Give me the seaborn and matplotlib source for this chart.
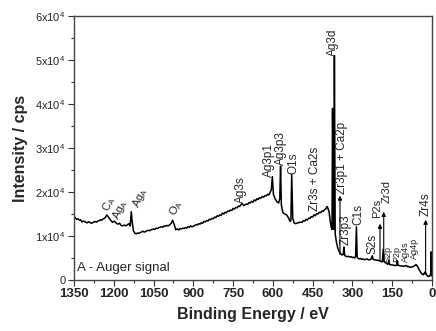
import matplotlib
matplotlib.use("Agg")
import matplotlib.pyplot as plt
import seaborn as sns
import pandas as pd

# ---- spectrum data (binding energy in eV, intensity in cps) ----
energy = [1350, 1345, 1340, 1334, 1330, 1325, 1320, 1314, 1310, 1305, 1300, 1295, 1290, 1285, 1280,
          1275, 1270, 1265, 1260, 1255, 1250, 1245, 1240, 1236, 1232,
          1226, 1220, 1212, 1205, 1198, 1192, 1185, 1178, 1172, 1166, 1160, 1154, 1148,
          1142, 1138, 1134, 1130, 1126, 1120, 1115, 1110, 1105, 1100, 1095, 1090, 1085, 1080, 1075,
          1070, 1065, 1060, 1055, 1050, 1045,
          1040, 1035, 1030, 1025, 1020, 1015, 1010, 1005, 1000, 995, 990, 983, 978, 972, 966, 962, 958, 954,
          950, 945, 940, 935, 930, 925, 920, 915,
          910, 905, 900, 895, 890, 885, 880, 875, 870, 865, 860, 855, 850, 845, 840, 835, 830, 825,
          820, 815, 810, 805, 800, 795, 790, 785, 780, 775, 770, 765, 760, 755,
          750, 745, 740, 735, 730, 726, 722, 716, 710, 705, 700, 695, 690, 685, 680, 675, 670, 665,
          660, 655, 650, 645, 640, 635, 630, 625, 620, 616, 612,
          606, 602, 598, 592, 585, 578, 574, 571, 568, 562, 555, 548, 540, 535, 532, 529,
          525, 520, 515, 510, 505, 500, 495, 490, 485, 480, 475, 470, 465, 460, 455, 450, 445, 440,
          435, 430, 425, 420, 415, 410, 405, 400, 398, 395, 392,
          388, 384, 380, 377, 375, 372, 370, 368, 365, 360, 355, 350, 345, 340, 335, 332,
          329, 325, 320, 315, 310, 305, 300, 296, 292, 288, 285, 282, 278, 275, 270, 265, 260, 255,
          250, 245, 240, 235, 230, 228, 225, 222,
          218, 215, 210, 205, 200, 195, 190, 187, 184, 181, 178, 175, 171, 168, 165, 163, 160, 155,
          150, 145, 140, 136, 133, 131, 128, 123, 118,
          113, 108, 104, 100, 96, 92, 88, 84, 80, 76, 72, 68, 64, 61, 58, 55, 52, 48, 45, 41, 38, 35,
          33, 30, 28, 25, 22, 18, 15, 12, 8, 5, 3, 1, 0]
counts = [14500, 14100, 13800, 13900, 13600, 13700, 13200, 13400, 13300, 13100, 13000, 13250, 13100, 12900, 13000,
          13200, 13300, 13150, 13400, 13500, 13700, 13600, 13900, 14000, 14200,
          14800, 14300, 13600, 13100, 13400, 13000, 12700, 12900, 12400, 12300, 12500, 12300, 12600,
          12800, 12300, 15500, 13000, 11200, 10600, 10500, 10700, 10600, 10800, 10900, 11100, 10900, 11000, 11200,
          11300, 11200, 11400, 11500, 11600, 11500,
          11800, 11700, 11900, 12000, 12100, 12000, 12300, 12200, 12400, 12300, 12500, 12900, 13600, 12600, 11400, 11600, 11500, 11400,
          11700, 11600, 11800, 11700, 11900, 11800, 12100, 12000,
          12300, 12100, 12200, 12400, 12600, 12500, 12800, 12700, 13000, 12900, 13300, 13200, 13500, 13400, 13800, 13700, 14000, 13900,
          14300, 14200, 14600, 14500, 14800, 14700, 15200, 15000, 15400, 15300, 15700, 15600, 15900, 15800,
          16300, 16100, 16500, 16400, 16800, 16700, 17000, 17400, 16900, 17100, 17300, 17200, 17600, 17500, 17900, 17700, 18200, 18000,
          18500, 18300, 18700, 18600, 19000, 18800, 19200, 19100, 19500, 19300, 19700,
          20500, 23500, 19500, 18500, 17800, 17500, 18500, 25900, 17000, 15300, 15000, 14800, 14000, 13300, 13500, 24000,
          14000, 13000, 12800, 12900, 13000, 13100, 13200, 13100, 13500, 13400, 13800, 13600, 14100, 14000, 14400, 14300, 14800, 14600,
          15100, 15000, 15400, 15300, 15700, 15600, 16000, 16200, 16500, 16700, 16200,
          15500, 13500, 12000, 11500, 39000, 12000, 11500, 51000, 10500, 8500, 7200, 6500, 6000, 5700, 5800, 7500,
          5600, 5400, 5300, 5400, 5200, 5300, 5100, 5200, 5000, 5300, 12100, 5200, 4900, 4800, 4900, 4700, 4800, 4600,
          4700, 4800, 4600, 4600, 4700, 5000, 5500, 4700,
          4600, 4600, 4500, 4500, 4400, 4300, 4200, 4100, 7000, 4300, 4000, 3900, 3800, 3600, 3700, 4500, 3500, 3500,
          3400, 3400, 3300, 3300, 3400, 4400, 3300, 3300, 3200,
          3200, 3100, 3200, 3200, 3300, 3000, 3100, 2900, 2900, 3000, 3000, 3200, 3300, 3500, 3400, 3100, 2800, 2300, 2000, 1600, 1400, 1300,
          1200, 1400, 1700, 1900, 1300, 1000, 800, 850, 900, 1500, 6400, 1000, 900]

x_ticks = [1350, 1200, 1050, 900, 750, 600, 450, 300, 150, 0]
y_ticks = [0, 10000, 20000, 30000, 40000, 50000, 60000]
y_tick_labels = ["0", "1x10$^4$", "2x10$^4$", "3x10$^4$", "4x10$^4$", "5x10$^4$", "6x10$^4$"]

# Auger labels (tilted)
auger_labels = ["C$_A$", "Ag$_A$", "Ag$_A$", "O$_A$"]
auger_x = [1205, 1170, 1094, 953]
auger_y = [14900, 13200, 15800, 14100]

# vertical peak labels (regular size)
peak_labels = ["Ag3s", "Ag3p1", "Ag3p3", "O1s", "Zr3s + Ca2s", "Ag3d", "Zr3p1 + Ca2p",
               "Zr3p3", "C1s", "S2s", "P2s", "Zr3d", "Zr4s"]
label_x = [720, 614, 571, 524, 440, 374, 339, 327, 277, 226, 207, 170, 25]
label_y = [17600, 23400, 26200, 24100, 15600, 51000, 19500, 7900, 12400, 5900, 14000, 17400, 14600]

# small labels in the crowded low-energy region
small_labels = ["S2p", "P2p", "Ag4s", "Ag4p"]
small_x = [164, 132, 99, 65]
small_y = [4100, 4100, 4100, 4800]

# arrows: energy, base, tip
arrow_x = [347, 196, 182, 24]
arrow_base = [5800, 4400, 4300, 1300]
arrow_tip = [19200, 12800, 15500, 13700]

sns.set_theme(style="ticks")
plt.rcParams["font.family"] = ["Liberation Sans", "DejaVu Sans"]
plt.rcParams["mathtext.default"] = "regular"

fig = plt.figure(figsize=(4.36, 3.31), dpi=100)
ax = fig.add_axes([0.1697, 0.154, 0.8211, 0.7977])

df = pd.DataFrame({"energy": energy, "counts": counts})
sns.lineplot(data=df, x="energy", y="counts", sort=False, estimator=None,
             color="black", linewidth=1.1, ax=ax)

ax.set_xlim(1350, 0)
ax.set_ylim(0, 60000)
ax.set_xticks(x_ticks)
ax.set_xticks([1275, 1125, 975, 825, 675, 525, 375, 225, 75], minor=True)
ax.set_yticks(y_ticks)
ax.set_yticks([5000, 15000, 25000, 35000, 45000, 55000], minor=True)
ax.set_yticklabels(y_tick_labels, fontsize=8)
ax.set_xticklabels([str(t) for t in x_ticks], fontsize=9.5, fontweight="bold")
ax.tick_params(axis="both", which="major", length=4, width=0.8, color="#333333", pad=2)
ax.tick_params(axis="both", which="minor", length=2, width=0.8, color="#333333")
for s in ax.spines.values():
    s.set_color("#444444")
    s.set_linewidth(1.0)

ax.set_xlabel("Binding Energy / eV", fontsize=11.5, fontweight="bold", labelpad=5)
ax.set_ylabel("Intensity / cps", fontsize=11.5, fontweight="bold", labelpad=5)

for t, x, y in zip(auger_labels, auger_x, auger_y):
    ax.text(x, y, t, rotation=65, rotation_mode="anchor", ha="left", va="bottom", fontsize=8)

for t, x, y in zip(peak_labels, label_x, label_y):
    fs = 8 if t in ("P2s", "Zr3d") else 8.5
    ax.text(x, y, t, rotation=90, ha="center", va="bottom", fontsize=fs)

for t, x, y in zip(small_labels, small_x, small_y):
    ax.text(x, y, t, rotation=90, ha="center", va="bottom", fontsize=6.5)

for x, b, tp in zip(arrow_x, arrow_base, arrow_tip):
    ax.annotate("", xy=(x, tp), xytext=(x, b),
                arrowprops=dict(arrowstyle="-|>", lw=0.8, color="black", mutation_scale=6,
                                shrinkA=0, shrinkB=0))

ax.text(1340, 2700, "A - Auger signal", fontsize=9.5, ha="left", va="center")

fig.savefig("out.png", dpi=100)
